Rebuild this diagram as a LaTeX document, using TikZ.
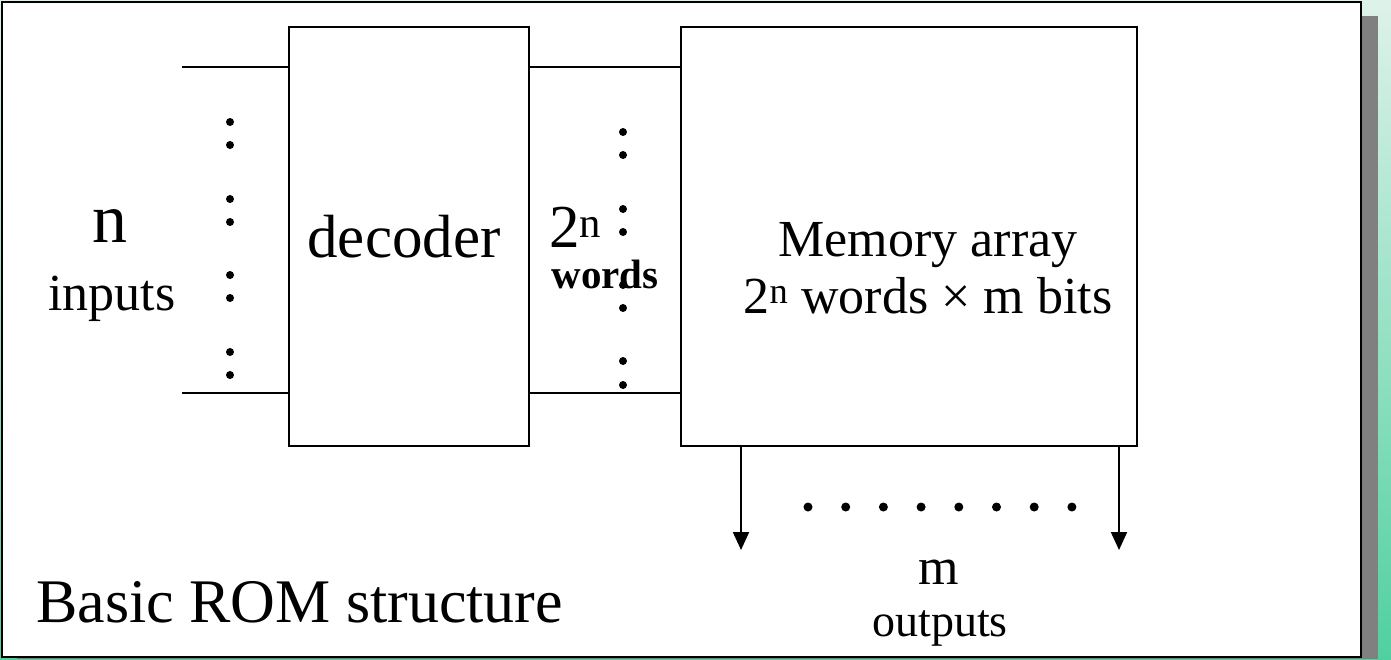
\documentclass[tikz,border=0pt]{standalone}
\usepackage{fontspec}
\setmainfont{Liberation Serif}
\usepackage{tikz}
\usetikzlibrary{arrows.meta}

\definecolor{slidetop}{RGB}{222,242,234}
\definecolor{slidebottom}{RGB}{80,208,160}
\definecolor{shadowgray}{RGB}{128,128,128}

\tikzset{
  block/.style={draw, line width=2pt, minimum height=419pt, inner sep=0pt},
  wire/.style={line width=2pt},
  outarrow/.style={wire, -{Triangle[width=16pt, length=18pt]}},
  hugetext/.style={anchor=base, font=\fontsize{70}{80}\selectfont},
  bigtext/.style={anchor=base, font=\fontsize{61}{70}\selectfont},
  midtext/.style={anchor=base, font=\fontsize{52}{60}\selectfont},
  smalltext/.style={anchor=base, font=\fontsize{46}{52}\selectfont},
}

\begin{document}
\begin{tikzpicture}[x=1pt, y=-1pt, inner sep=0pt]
      \useasboundingbox (0,0) rectangle (1391,659);
      \shade[top color=slidetop, bottom color=slidebottom] (0,0) rectangle (1391,659);
      \fill[shadowgray] (17,16) rectangle (1378,659);
      \draw[line width=2pt, fill=white] (2,2) rectangle (1361,657);

      \node[block, minimum width=240pt] (decoder) at (409,236.5) {};
      \node[block, minimum width=456pt] (memarray) at (909,236.5) {};

      \coordinate (intop) at (182,67);
      \coordinate (inbot) at (182,393);
      \draw[wire] (intop) -- (intop -| decoder.west);
      \draw[wire] (inbot) -- (inbot -| decoder.west);
      \draw[wire] (decoder.east |- intop) -- (memarray.west |- intop);
      \draw[wire] (decoder.east |- inbot) -- (memarray.west |- inbot);

      \coordinate (outleft) at (741,550);
      \coordinate (outright) at (1119,550);
      \draw[outarrow] (memarray.south -| outleft) -- (outleft);
      \draw[outarrow] (memarray.south -| outright) -- (outright);

      \foreach \y in {122,145,199,222,275,298,352,375}
        \fill (230,\y) circle (4);
      \foreach \y in {132,155,209,232,285,308,361,385}
        \fill (623,\y) circle (4);
      \foreach \i in {0,...,7}
        \fill (808+37.7*\i,507) circle (4.5);

      \node[hugetext] (nlabel) at (110,242) {n};
      \node[midtext] (inlabel) at (112,310) {inputs};
      \node[bigtext] (declabel) at (404,257) {decoder};
      \node[bigtext, anchor=base west] (wordsexp) at (549,247) {2\textsuperscript{n}};
      \node[anchor=base, font=\fontsize{41}{46}\selectfont\bfseries] (wordslabel) at (605,288) {words};
      \node[midtext] (memtitle) at (928,256) {Memory array};
      \node[midtext] (memsize) at (928,313) {2\textsuperscript{n} words × m bits};
      \node[midtext] (mlabel) at (939,584) {m};
      \node[smalltext] (outlabel) at (940,636) {outputs};
      \node[bigtext, anchor=base west, font=\fontsize{62}{70}\selectfont] (caption) at (36,622) {Basic ROM structure};
\end{tikzpicture}
\end{document}
